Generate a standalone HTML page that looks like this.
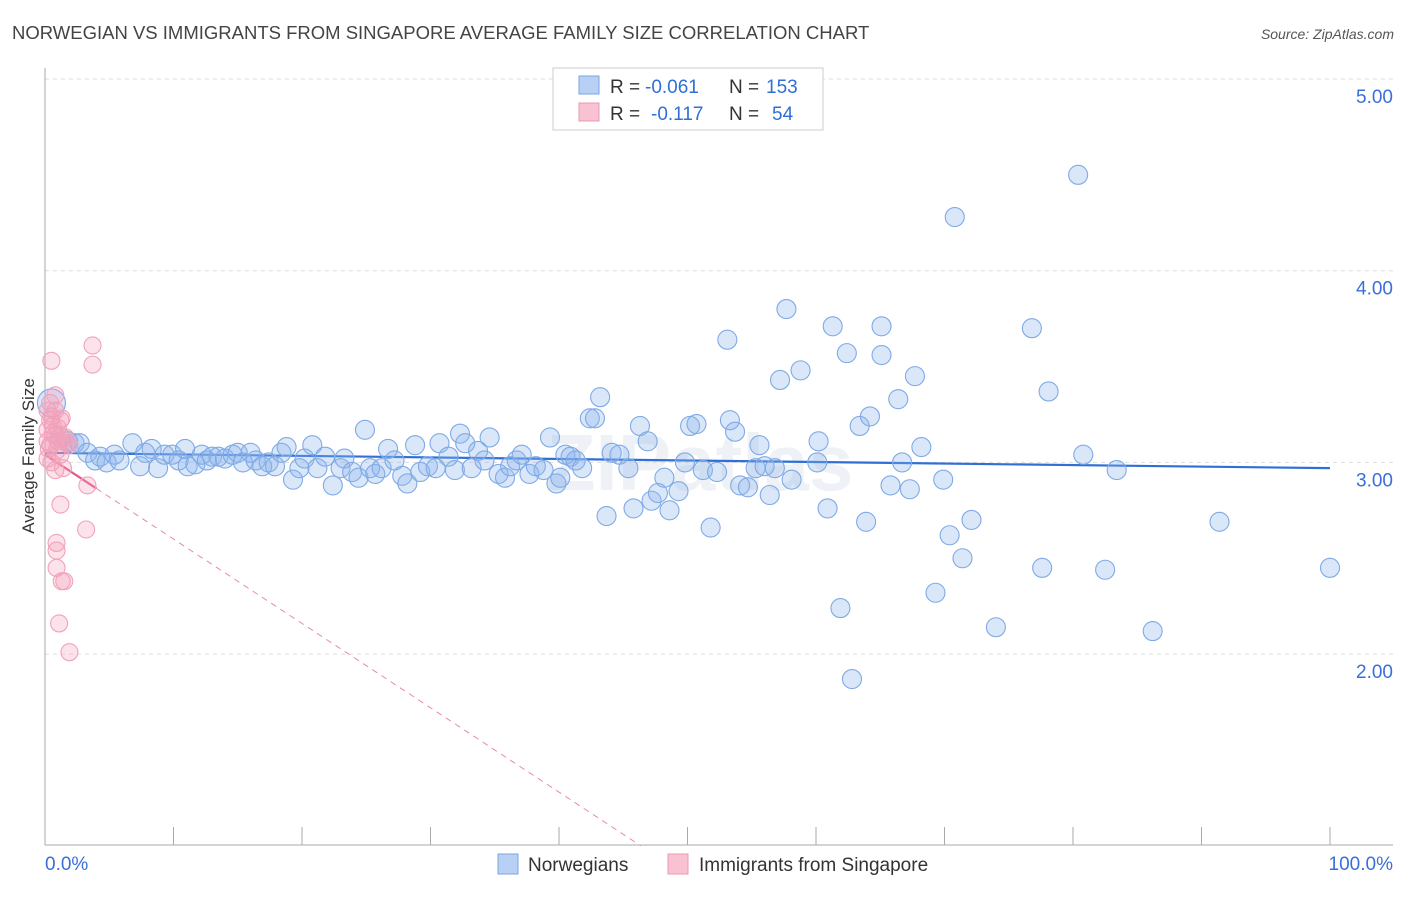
<!DOCTYPE html>
<html><head><meta charset="utf-8"><style>
body{margin:0;background:#fff;font-family:"Liberation Sans",sans-serif}
svg text{font-family:"Liberation Sans",sans-serif}
</style></head><body>
<svg id="chart" width="1406" height="892" xmlns="http://www.w3.org/2000/svg">
<text x="12" y="39" font-size="18.5" fill="#444">NORWEGIAN VS IMMIGRANTS FROM SINGAPORE AVERAGE FAMILY SIZE CORRELATION CHART</text>
<text x="1394" y="39" font-size="14" fill="#555" font-style="italic" text-anchor="end">Source: ZipAtlas.com</text>
<text x="700" y="490" font-size="80" fill="#eef1f5" text-anchor="middle" font-weight="bold">ZIPatlas</text>
<g id="grid"></g><g id="axes"></g>
<text transform="translate(34,456) rotate(-90)" font-size="17" fill="#333" text-anchor="middle">Average Family Size</text>
<g id="trend"></g><g id="pts"></g>
<g>
<rect x="553" y="68" width="270" height="62" fill="#fff" stroke="#ccc"/>
<rect x="579" y="76" width="20" height="18" fill="#b7d0f3" stroke="#7aa6e4"/>
<rect x="579" y="103" width="20" height="18" fill="#f8c2d2" stroke="#ec98b2"/>
<text x="610" y="93" font-size="19" fill="#333">R =</text>
<text x="645" y="93" font-size="19" fill="#2f6fd6">-0.061</text>
<text x="729" y="93" font-size="19" fill="#333">N =</text>
<text x="766" y="93" font-size="19" fill="#2f6fd6">153</text>
<text x="610" y="120" font-size="19" fill="#333">R =</text>
<text x="651" y="120" font-size="19" fill="#2f6fd6">-0.117</text>
<text x="729" y="120" font-size="19" fill="#333">N =</text>
<text x="772" y="120" font-size="19" fill="#2f6fd6">54</text>
</g>
<g>
<rect x="498" y="854" width="20" height="20" fill="#b7d0f3" stroke="#7aa6e4"/>
<text x="528" y="871" font-size="19" fill="#333">Norwegians</text>
<rect x="668" y="854" width="20" height="20" fill="#f8c2d2" stroke="#ec98b2"/>
<text x="699" y="871" font-size="19" fill="#333">Immigrants from Singapore</text>
</g>
</svg>
<script>
const blueX=[0.5,1.2,1.8,2.3,2.7,3.3,3.9,4.3,4.8,5.4,5.8,6.8,7.4,7.8,8.3,8.8,9.3,9.9,10.4,10.9,11.1,11.7,12.2,12.6,13.0,13.5,14.0,14.6,15.0,15.4,16.0,16.4,16.9,17.4,17.9,18.4,18.8,19.3,19.8,20.2,20.8,21.2,21.8,22.4,23.0,23.3,23.9,24.4,24.9,25.3,25.7,26.2,26.7,27.2,27.8,28.2,28.8,29.2,29.8,30.4,30.7,31.4,31.9,32.3,32.7,33.2,33.7,34.2,34.6,35.3,35.8,36.2,36.7,37.1,37.7,38.2,38.8,39.3,39.8,40.1,40.5,40.9,41.3,41.8,42.4,42.8,43.2,43.7,44.1,44.7,45.4,45.8,46.3,46.9,47.2,47.7,48.2,48.6,49.3,49.8,50.2,50.7,51.2,51.8,52.3,53.1,53.3,53.7,54.1,54.7,55.3,55.6,56.0,56.4,56.8,57.7,57.2,58.1,58.8,60.1,60.2,60.9,61.3,61.9,62.4,62.8,63.4,63.9,64.2,65.1,65.1,65.8,66.4,66.7,67.3,67.7,68.2,69.3,69.9,70.4,70.8,71.4,72.1,74.0,76.8,77.6,78.1,80.4,80.8,82.5,83.4,86.2,91.4,100];
const blueY=[3.31,3.13,3.11,3.10,3.10,3.05,3.01,3.03,3.00,3.04,3.01,3.10,2.98,3.05,3.07,2.97,3.04,3.04,3.01,3.07,2.98,2.99,3.04,3.01,3.03,3.03,3.02,3.04,3.05,3.00,3.05,3.01,2.98,3.00,2.98,3.05,3.08,2.91,2.97,3.02,3.09,2.97,3.03,2.88,2.97,3.02,2.95,2.92,3.17,2.97,2.94,2.97,3.07,3.01,2.93,2.89,3.09,2.95,2.98,2.97,3.10,3.03,2.96,3.15,3.10,2.97,3.06,3.01,3.13,2.94,2.92,2.98,3.01,3.04,2.94,2.98,2.96,3.13,2.89,2.92,3.04,3.03,3.01,2.97,3.23,3.23,3.34,2.72,3.05,3.04,2.97,2.76,3.19,3.11,2.80,2.84,2.92,2.75,2.85,3.00,3.19,3.20,2.96,2.66,2.95,3.64,3.22,3.16,2.88,2.87,2.97,3.09,2.98,2.83,2.97,3.80,3.43,2.91,3.48,3.00,3.11,2.76,3.71,2.24,3.57,1.87,3.19,2.69,3.24,3.71,3.56,2.88,3.33,3.00,2.86,3.45,3.08,2.32,2.91,2.62,4.28,2.50,2.70,2.14,3.70,2.45,3.37,4.50,3.04,2.44,2.96,2.12,2.69,2.45];
const pinkX=[0.5,3.7,3.7,0.4,0.8,1.2,1.3,0.2,0.8,1.0,1.6,0.4,0.9,0.2,1.2,0.5,0.8,1.4,3.3,1.2,3.2,0.9,0.9,0.9,1.3,1.5,1.1,1.9,0.4,0.6,0.2,1.7,1.9,0.8,0.5,0.2,1.0,0.6,1.4,0.3];
const pinkY=[3.53,3.61,3.51,3.31,3.27,3.22,3.23,3.17,3.14,3.11,3.13,3.09,3.06,3.02,3.04,3.00,2.96,2.97,2.88,2.78,2.65,2.58,2.54,2.45,2.38,2.38,2.16,2.01,3.22,3.19,3.11,3.10,3.09,3.35,3.24,3.27,3.18,3.15,3.12,3.07];
const yTicks=[2,3,4,5];
const yTickLabels=["2.00","3.00","4.00","5.00"];
const xTickLabels=["0.0%","100.0%"];
const blueTrend=[3.05,2.97];
const pinkTrend=[3.04,-0.044];
const X0=45,X1=1330,Y5=79,UNIT=191.7;
const sx=v=>X0+(X1-X0)*v/100, sy=v=>Y5+(5-v)*UNIT;
const NS="http://www.w3.org/2000/svg";
function mk(parent,tag,attrs){const e=document.createElementNS(NS,tag);for(const k in attrs)e.setAttribute(k,attrs[k]);document.getElementById(parent).appendChild(e);return e;}
yTicks.forEach((t,i)=>{
 const g=mk('grid','line',{x1:X0,x2:1393,y1:sy(t),y2:sy(t),stroke:'#ddd','stroke-dasharray':'4,4'});
 
 
 const tx=mk('grid','text',{x:1393,y:sy(t)+24,'font-size':19,fill:'#3a6fd8','text-anchor':'end'});
 tx.textContent=yTickLabels[i];
 
 
});
const la=mk('axes','line',{x1:X0,x2:X0,y1:68,y2:845,stroke:'#aaa'});


const ba=mk('axes','line',{x1:X0,x2:1393,y1:845,y2:845,stroke:'#aaa'});


for(let i=1;i<=10;i++){const t=mk('axes','line',{x1:sx(i*10),x2:sx(i*10),y1:827,y2:845,stroke:'#aaa'});
 
 }
const xl0=mk('axes','text',{x:45,y:870,'font-size':19,fill:'#3a6fd8'});xl0.textContent=xTickLabels[0];


const xl1=mk('axes','text',{x:1393,y:870,'font-size':19,fill:'#3a6fd8','text-anchor':'end'});xl1.textContent=xTickLabels[1];


blueX.forEach((x,i)=>{const c=mk('pts','circle',{cx:sx(x),cy:sy(blueY[i]),r:i===0?14:9.5,fill:'rgba(140,180,236,0.32)',stroke:'#7faae6','stroke-width':1.1});
 
 });
pinkX.forEach((x,i)=>{const c=mk('pts','circle',{cx:sx(x),cy:sy(pinkY[i]),r:8.5,fill:'rgba(245,160,185,0.3)',stroke:'#f0a3ba','stroke-width':1.1});
 
 });
const bt=mk('trend','line',{x1:sx(0),y1:sy(blueTrend[0]),x2:sx(100),y2:sy(blueTrend[1]),stroke:'#2f6fd6','stroke-width':2.2});


const pEnd=(1-pinkTrend[0])/pinkTrend[1];
const pd=mk('trend','line',{x1:sx(4),y1:sy(pinkTrend[0]+pinkTrend[1]*4),x2:sx(pEnd),y2:sy(1),stroke:'#e88aa8','stroke-width':1,'stroke-dasharray':'6,5'});


const ps=mk('trend','line',{x1:sx(0),y1:sy(pinkTrend[0]),x2:sx(4),y2:sy(pinkTrend[0]+pinkTrend[1]*4),stroke:'#e45a86','stroke-width':2.2});


</script>
</body></html>
